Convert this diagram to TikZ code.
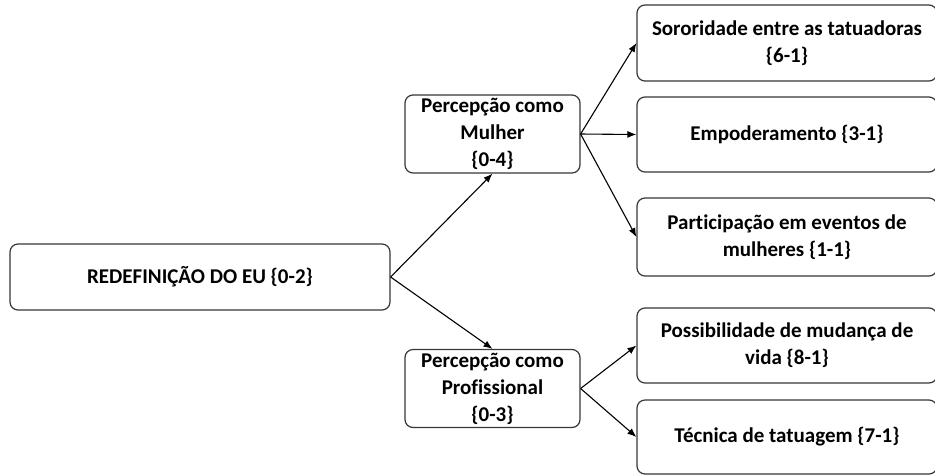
\documentclass[tikz,border=0pt]{standalone}
\usepackage{fontspec}
\setmainfont{Carlito}[Ligatures={NoCommon}]
\usepackage{xcolor}
\usepackage{tikz}
\usetikzlibrary{arrows.meta}
\definecolor{boxgray}{RGB}{55,55,55}

\begin{document}
\begin{tikzpicture}[
  x=1pt, y=-1pt,
  box/.style={rectangle, rounded corners=8pt, draw=boxgray, line width=1.2pt, fill=white, align=center, inner xsep=2pt, inner ysep=0pt, font=\fontsize{21}{27}\selectfont\bfseries},
  mid/.style={box, minimum width=175pt, minimum height=78pt},
  leaf/.style={box, minimum width=300pt, minimum height=76pt},
  arr/.style={-{Latex[length=9pt,width=7pt]}, line width=1.1pt}
]
\useasboundingbox (0,0) rectangle (935,475);
\node[box, minimum width=380pt, minimum height=66pt] (eu) at (200,277) {REDEFINIÇÃO DO EU \{0-2\}};
\node[mid] (mulher) at (492.5,134) {Percepção como\\Mulher\\\{0-4\}};
\node[mid] (prof) at (492.5,388.5) {Percepção como\\Profissional\\\{0-3\}};
\node[leaf] (soror) at (787,43) {Sororidade entre as tatuadoras\\\{6-1\}};
\node[leaf, minimum height=75pt] (empod) at (787,134.5) {Empoderamento \{3-1\}};
\node[leaf, minimum height=78pt] (partic) at (787,237) {Participação em eventos de\\mulheres \{1-1\}};
\node[leaf, minimum height=75pt] (possib) at (787,345.5) {Possibilidade de mudança de\\vida \{8-1\}};
\node[leaf, minimum height=74pt] (tecnica) at (787,437) {Técnica de tatuagem \{7-1\}};

\draw[arr] (eu.east) -- (mulher.south);
\draw[arr] (eu.east) -- (prof.north);
\draw[arr] (mulher.east) -- (soror.west);
\draw[arr] (mulher.east) -- (empod.west);
\draw[arr] (mulher.east) -- (partic.west);
\draw[arr] (prof.east) -- (possib.west);
\draw[arr] (prof.east) -- (tecnica.west);
\end{tikzpicture}
\end{document}
